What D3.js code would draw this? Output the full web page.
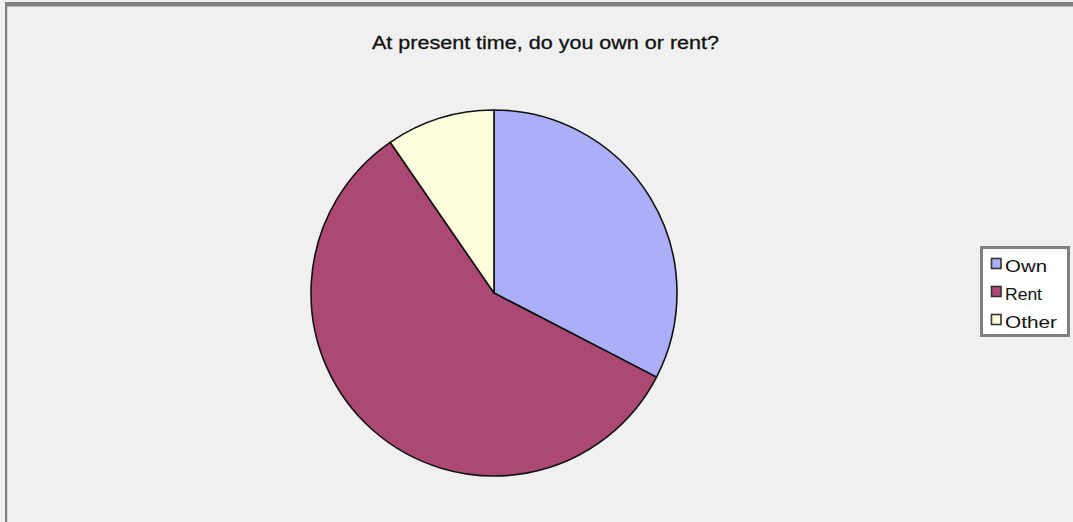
<!DOCTYPE html>
<html><head><meta charset="utf-8">
<script src="https://d3js.org/d3.v7.min.js"></script>
<style>html,body{margin:0;padding:0;background:#f0f0f0;overflow:hidden}</style>
</head><body>
<script>
const categories = ["Own", "Rent", "Other"];
const values = [32.6, 57.8, 9.6];
const colors = ["#abaff8", "#ab4873", "#fefedd"];
const title = "At present time, do you own or rent?";

const W = 1073, H = 522;
const svg = d3.select("body").append("svg").attr("width", W).attr("height", H);
svg.append("rect").attr("width", W).attr("height", H).attr("fill", "#f0f0f0");
// frame (top and left edges visible)
svg.append("rect").attr("x", 5).attr("y", 2).attr("width", W).attr("height", 4.5).attr("fill", "#7f7f7f");
svg.append("rect").attr("x", 5).attr("y", 2).attr("width", 2.2).attr("height", H).attr("fill", "#7f7f7f");

svg.append("text").attr("x", 372).attr("y", 49)
  .attr("textLength", 347).attr("lengthAdjust", "spacingAndGlyphs")
  .attr("font-family", "Liberation Sans, Arial, sans-serif").attr("font-size", 18)
  .attr("fill", "#111").attr("stroke", "#111").attr("stroke-width", 0.3).text(title);

const cx = 494, cy = 293, r = 183;
const pie = d3.pie().sort(null).value(d => d)(values);
const arc = d3.arc().innerRadius(0).outerRadius(r);
const g = svg.append("g").attr("transform", `translate(${cx},${cy})`);
g.selectAll("path").data(pie).enter().append("path")
  .attr("d", arc).attr("fill", (d, i) => colors[i])
  .attr("stroke", "#111").attr("stroke-width", 1.6).attr("stroke-linejoin", "round");

// legend
const lg = svg.append("g");
lg.append("rect").attr("x", 981.5).attr("y", 247.5).attr("width", 87).attr("height", 88)
  .attr("fill", "#ffffff").attr("stroke", "#7f7f7f").attr("stroke-width", 3);
const y0 = 271.5, dy = 28;
const widths = [42, 37, 52];
categories.forEach((c, i) => {
  lg.append("rect").attr("x", 991.5).attr("y", y0 + i * dy - 13).attr("width", 9.5).attr("height", 10)
    .attr("fill", colors[i]).attr("stroke", "#333").attr("stroke-width", 1.6);
  lg.append("text").attr("x", 1005).attr("y", y0 + i * dy)
    .attr("textLength", widths[i]).attr("lengthAdjust", "spacingAndGlyphs")
    .attr("font-family", "Liberation Sans, Arial, sans-serif").attr("font-size", 17)
    .attr("fill", "#111").text(c);
});
</script>
</body></html>
